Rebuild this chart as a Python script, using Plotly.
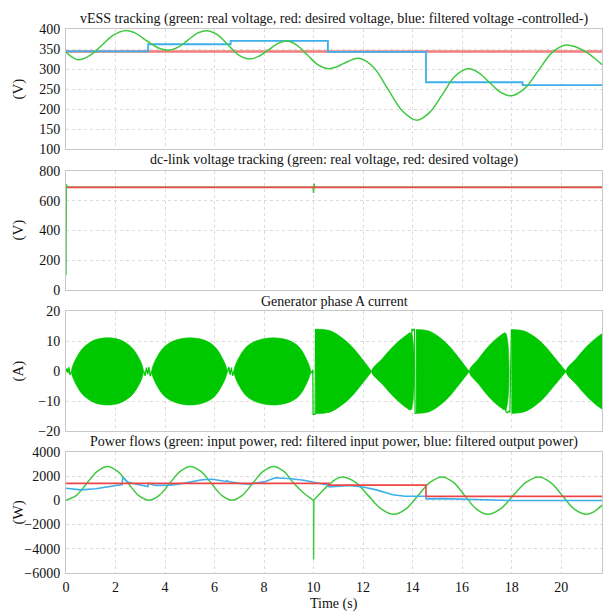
import plotly.graph_objects as go
from plotly.subplots import make_subplots

FONT = "Liberation Serif"
TEXT = "#111111"
GREEN = "#40c840"
FILL_GREEN = "#00c800"
RED = "#ee4646"
RED_SOFT = "#f07c7c"
BLUE = "#3cb0ea"
GRID = "#dcdcdc"
FRAME = "#c8c8c8"

T_END = 21.65

# ---- vESS tracking (V) ----
vess_t = [0, 0.25, 0.5, 0.97, 1.44, 1.91, 2.38, 2.82, 3.25, 3.69, 4.13, 4.52, 4.9,
          5.29, 5.67, 6.11, 6.55, 6.98, 7.42, 7.79, 8.16, 8.53, 8.9, 9.32, 9.75,
          10.17, 10.6, 10.91, 11.22, 11.54, 11.85, 12.43, 13.01, 13.59, 14.17,
          14.68, 15.2, 15.71, 16.22, 16.66, 17.1, 17.53, 17.97, 18.52, 19.08,
          19.63, 20.19, 20.6, 21.0, 21.35, 21.65]
vess_v = [343, 331, 324, 335, 360, 386, 397, 390, 372, 355, 348, 355, 372,
          390, 397, 387, 361, 336, 326, 333, 348, 364, 371, 361, 336,
          312, 302, 306, 315, 324, 328, 305, 250, 196, 173,
          192, 237, 283, 302, 292, 268, 244, 234, 252, 297,
          342, 361, 356, 344, 328, 312]
vess_ref_t = [0, T_END]
vess_ref_v = [345, 345]
vess_filt_t = [0, 3.32, 6.65, 10.58, 14.54, 18.44, T_END]
vess_filt_v = [345, 363, 371.5, 344, 268, 261, 261]

# ---- dc-link voltage tracking (V) ----
dc_t = [0, 0.01, 0.03, 0.06, 9.98, 10.0, 10.02, 10.04, T_END]
dc_v = [100, 710, 700, 690, 690, 652, 714, 690, 690]
dc_ref_t = [0.04, T_END]
dc_ref_v = [690, 690]

# ---- generator phase A current (A): envelope of each burst ----
burst_t = [
    [0.22, 0.3, 0.45, 0.65, 0.9, 1.2, 1.68, 2.16, 2.46, 2.71, 2.91, 3.06, 3.14],
    [3.46, 3.54, 3.69, 3.89, 4.14, 4.5, 5.02, 5.52, 5.86, 6.09, 6.28, 6.43, 6.53],
    [6.78, 6.86, 7.01, 7.21, 7.46, 7.85, 8.38, 8.9, 9.25, 9.48, 9.66, 9.8, 9.9],
    [10.08, 10.65, 11.08, 11.5, 11.94, 12.35],
    [12.35, 12.79, 13.26, 13.73, 13.93],
    [14.14, 14.65, 15.05, 15.45, 15.88, 16.29],
    [16.29, 16.68, 17.1, 17.55, 17.75],
    [17.99, 18.5, 18.92, 19.32, 19.76, 20.2],
    [20.2, 20.62, 21.08, 21.55, T_END],
]
burst_amp = [
    [0, 2.5, 5.0, 7.5, 9.3, 10.6, 11.2, 10.6, 9.3, 7.5, 5.0, 2.5, 0],
    [0, 2.5, 5.0, 7.5, 9.3, 10.6, 11.2, 10.6, 9.3, 7.5, 5.0, 2.5, 0],
    [0, 2.5, 5.0, 7.5, 9.3, 10.6, 11.2, 10.6, 9.3, 7.5, 5.0, 2.5, 0],
    [14.1, 13.6, 11.6, 8.7, 4.4, 0],
    [0, 4.4, 8.7, 12.0, 12.8],
    [14.0, 13.5, 11.6, 8.7, 4.4, 0],
    [0, 4.4, 8.7, 12.0, 12.8],
    [14.0, 13.5, 11.6, 8.7, 4.4, 0],
    [0, 4.4, 8.7, 12.0, 12.4],
]
# low-amplitude ripple and switching transients, drawn as plain lines
ripple_t = [
    [0, 0.04, 0.08, 0.12, 0.16, 0.22],
    [3.14, 3.2, 3.25, 3.3, 3.35, 3.4, 3.46],
    [6.53, 6.58, 6.63, 6.68, 6.73, 6.78],
    [9.9, 9.94, 9.97, 9.98, 10.06, 10.08],
    [13.93, 13.95, 13.97, 14.0, 14.04, 14.08, 14.1, 14.14],
    [17.75, 17.77, 17.82, 17.87, 17.93, 17.96, 17.99],
]
ripple_a = [
    [0, 1.0, -0.6, 1.4, -1.2, 0],
    [0, -1.5, 1.3, -1.0, 1.4, -1.6, 0],
    [0, 1.5, -1.2, 1.3, -1.5, 0],
    [0, -0.6, 0.6, -14.3, -14.3, 14.1],
    [-12.8, 13.6, 14.2, 13.4, 14.0, 14.0, -14.0, -14.0],
    [12.8, -13.5, -13.8, -13.3, -13.6, 13.6, 14.0],
]

# ---- power flows (W) ----
pin_t_a = [0, 0.42, 0.84, 1.26, 1.67, 2.09, 2.51, 2.93, 3.35, 3.77, 4.19, 4.61,
           5.03, 5.45, 5.87, 6.29, 6.7, 7.12, 7.54, 7.96, 8.38, 8.8, 9.2, 9.6, 10.0]
pin_v_a = [0, 410, 1400, 2390, 2800, 2390, 1400, 410, 0, 410, 1400, 2390,
           2800, 2390, 1400, 410, 0, 410, 1400, 2390, 2800, 2390, 1400, 600, 0]
pin_t_b = [10.0, 10.3, 10.6, 10.9, 11.18, 11.7, 12.21, 12.73, 13.24, 13.73, 14.22,
           14.7, 15.19, 15.65, 16.11, 16.57, 17.03, 17.55, 18.06, 18.58, 19.09,
           19.57, 20.05, 20.52, 21.0, 21.3, T_END]
pin_v_b = [0, 650, 1250, 1750, 1930, 1479, 385, -709, -1160, -709, 385,
           1479, 1930, 1479, 385, -709, -1160, -709, 385, 1479, 1930,
           1479, 385, -709, -1160, -980, -400]
pin_spike_t = [10.0, 10.0, 10.01]
pin_spike_v = [0, -4900, 0]
pin_filt_t = [0, 10.62, 14.54, T_END]
pin_filt_v = [1400, 1250, 320, 320]
pout_t = [0, 0.3, 0.6, 1.2, 1.8, 2.27, 2.29, 2.5, 2.8, 3.1, 3.31, 3.33, 3.6,
          4.2, 4.8, 5.5, 5.9, 6.48, 6.5, 6.6, 7.0, 7.4, 8.0, 8.45, 9.1,
          9.6, 10.2, 10.61, 10.63, 11.0, 11.45, 12.0, 12.53, 13.2, 13.7,
          14.53, 14.55, 15.2, 15.8, 16.5, 17.2, 18.0, T_END]
pout_v = [990, 900, 860, 950, 1120, 1300, 1900, 1500, 1350, 1200, 1130, 1400, 1230,
          1250, 1420, 1700, 1740, 1560, 1620, 1530, 1400, 1340, 1520, 1860, 1780,
          1650, 1380, 1250, 1100, 1180, 1230, 1100, 860, 455, 330,
          330, 120, 140, 100, 20, -20, -20, -20]

fig = make_subplots(rows=4, cols=1, shared_xaxes=True)

# vESS: desired (red), filtered/controlled (blue), real (green)
fig.add_trace(go.Scatter(x=vess_ref_t, y=vess_ref_v, mode="lines",
                         line=dict(color=RED_SOFT, width=2.5)), row=1, col=1)
fig.add_trace(go.Scatter(x=vess_filt_t, y=vess_filt_v, mode="lines",
                         line=dict(color=BLUE, width=1.8, shape="hv")), row=1, col=1)
fig.add_trace(go.Scatter(x=vess_t, y=vess_v, mode="lines",
                         line=dict(color=GREEN, width=1.5, shape="spline", smoothing=1.0)),
              row=1, col=1)

# dc-link: real (green) under desired (red)
fig.add_trace(go.Scatter(x=dc_t, y=dc_v, mode="lines",
                         line=dict(color=GREEN, width=1.5)), row=2, col=1)
fig.add_trace(go.Scatter(x=dc_ref_t, y=dc_ref_v, mode="lines",
                         line=dict(color=RED, width=1.8)), row=2, col=1)

# phase A current: each burst as a band between +envelope and -envelope
for bt, ba in zip(burst_t, burst_amp):
    xs = list(bt) + list(bt[::-1])
    ys = list(ba) + [-a for a in ba[::-1]]
    fig.add_trace(go.Scatter(x=xs, y=ys, mode="lines", fill="toself",
                             fillcolor=FILL_GREEN,
                             line=dict(color=FILL_GREEN, width=0.6, shape="spline")),
                  row=3, col=1)
for rt, ra in zip(ripple_t, ripple_a):
    fig.add_trace(go.Scatter(x=rt, y=ra, mode="lines",
                             line=dict(color=FILL_GREEN, width=1.2)),
                  row=3, col=1)

# power flows
fig.add_trace(go.Scatter(x=pin_t_a, y=pin_v_a, mode="lines",
                         line=dict(color=GREEN, width=1.5, shape="spline")), row=4, col=1)
fig.add_trace(go.Scatter(x=pin_t_b, y=pin_v_b, mode="lines",
                         line=dict(color=GREEN, width=1.5, shape="spline")), row=4, col=1)
fig.add_trace(go.Scatter(x=pin_spike_t, y=pin_spike_v, mode="lines",
                         line=dict(color=GREEN, width=1.5)), row=4, col=1)
fig.add_trace(go.Scatter(x=pout_t, y=pout_v, mode="lines",
                         line=dict(color=BLUE, width=1.6)), row=4, col=1)
fig.add_trace(go.Scatter(x=pin_filt_t, y=pin_filt_v, mode="lines",
                         line=dict(color=RED, width=1.6, shape="hv")), row=4, col=1)

H = 616.0
def dom(top_px, bottom_px):
    return [1 - bottom_px / H, 1 - top_px / H]

panels = [
    dict(dom=dom(23, 146), rng=[100, 400], dtick=50),
    dict(dom=dom(168, 290), rng=[0, 800], dtick=200),
    dict(dom=dom(312, 435), rng=[-20, 20], dtick=10),
    dict(dom=dom(456, 580), rng=[-6000, 4000], dtick=2000),
]
tickfont = dict(family=FONT, size=14, color=TEXT)
for i, p in enumerate(panels, start=1):
    fig.update_yaxes(row=i, col=1, domain=p["dom"], range=p["rng"], dtick=p["dtick"],
                     showgrid=True, gridcolor=GRID, griddash="dot", gridwidth=1,
                     showline=True, linecolor=FRAME, linewidth=1, mirror=True,
                     zeroline=False, ticks="outside", ticklen=2, tickcolor="white",
                     tickfont=tickfont, fixedrange=True)
    fig.update_xaxes(row=i, col=1, range=[0, T_END], dtick=2,
                     showgrid=True, gridcolor=GRID, griddash="dot", gridwidth=1,
                     showline=True, linecolor=FRAME, linewidth=1, mirror=True,
                     zeroline=False, ticks="outside", ticklen=1, tickcolor="white",
                     tickfont=tickfont, showticklabels=(i == 4))

titles = [
    ("vESS tracking (green: real voltage, red: desired voltage, blue: filtered voltage -controlled-)", 12),
    ("dc-link voltage tracking (green: real voltage, red: desired voltage)", 157),
    ("Generator phase A current", 302),
    ("Power flows (green: input power, red: filtered input power, blue: filtered output power)", 446),
]
ann = []
for text, ypx in titles:
    ann.append(dict(text=text, x=0.5, y=1 - ypx / H, xref="paper", yref="paper",
                    xanchor="center", yanchor="middle", showarrow=False,
                    font=dict(family=FONT, size=14, color=TEXT)))
for text, ypx in [("(V)", 84.5), ("(V)", 229), ("(A)", 373.5), ("(W)", 518)]:
    ann.append(dict(text=text, x=(18 - 66) / 537.0, y=1 - ypx / H,
                    xref="paper", yref="paper", xanchor="center", yanchor="middle",
                    showarrow=False, textangle=-90,
                    font=dict(family=FONT, size=15, color=TEXT)))
ann.append(dict(text="Time (s)", x=0.5, y=-5 / H, xref="paper", yref="paper",
                xanchor="center", yanchor="bottom", showarrow=False, borderpad=0,
                font=dict(family=FONT, size=14, color=TEXT)))

fig.update_layout(
    width=603, height=616,
    margin=dict(l=66, r=0, t=0, b=0),
    paper_bgcolor="white", plot_bgcolor="white",
    showlegend=False,
    annotations=ann,
    font=dict(family=FONT),
)

fig.write_html("out.html")
